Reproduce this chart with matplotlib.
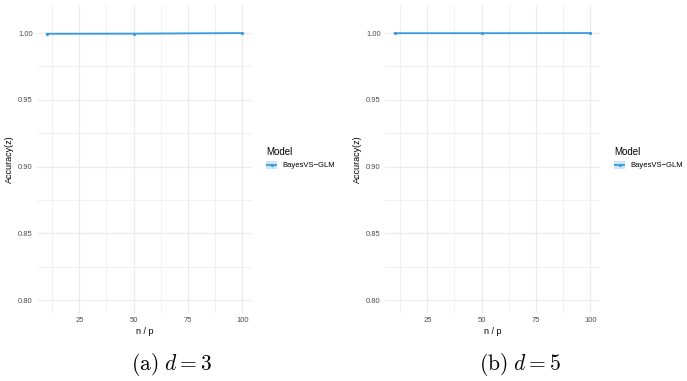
import matplotlib
matplotlib.use("Agg")
import matplotlib.pyplot as plt
from matplotlib.patches import Rectangle

plt.rcParams["font.family"] = ["Liberation Sans", "DejaVu Sans"]
plt.rcParams["mathtext.fontset"] = "cm"

W, H = 687, 381
n_over_p = [10, 50, 100]
acc_d3 = [0.9995, 0.9996, 1.0]
acc_d5 = [0.9999, 0.9999, 1.0]
ci_lo_d3 = [0.9990, 0.9991, 0.9997]
ci_hi_d3 = [1.0000, 1.0001, 1.0003]
ci_lo_d5 = [0.9996, 0.9996, 0.9997]
ci_hi_d5 = [1.0002, 1.0002, 1.0003]
x_ticks = [25, 50, 75, 100]
y_ticks = [0.80, 0.85, 0.90, 0.95, 1.00]
captions = [r"$\mathrm{(a)}\ d=3$", r"$\mathrm{(b)}\ d=5$"]
model_name = "BayesVS\u2212GLM"

line_col = "#3a9bdc"
grid_col = "#ebebeb"

fig = plt.figure(figsize=(W / 100, H / 100), dpi=100)

def px_axes(x0, y0, x1, y1):
    return fig.add_axes([x0 / W, 1 - y1 / H, (x1 - x0) / W, (y1 - y0) / H])

panels = [(0, acc_d3, ci_lo_d3, ci_hi_d3), (348, acc_d5, ci_lo_d5, ci_hi_d5)]
for i, (off, acc, lo, hi) in enumerate(panels):
    ax = px_axes(off + 37, 5, off + 252, 313)
    ax.set_xlim(5.5, 104.5)
    ax.set_ylim(0.7905, 1.021)
    for s in ax.spines.values():
        s.set_visible(False)
    ax.set_xticks(x_ticks)
    ax.set_xticks([12.5, 37.5, 62.5, 87.5], minor=True)
    ax.set_yticks(y_ticks)
    ax.set_yticks([0.825, 0.875, 0.925, 0.975], minor=True)
    ax.set_yticklabels([f"{v:.2f}" for v in y_ticks])
    ax.grid(True, which="major", color=grid_col, lw=0.9)
    ax.grid(True, which="minor", color=grid_col, lw=0.5)
    ax.set_axisbelow(True)
    ax.tick_params(which="both", length=0, labelsize=5.5, labelcolor="#4d4d4d", pad=3)
    ax.fill_between(n_over_p, lo, hi, color=line_col, alpha=0.25, lw=0)
    ax.plot(n_over_p, acc, color=line_col, lw=1.3, marker="o", ms=1.3)
    ax.set_xlabel("n / p", fontsize=6.5, labelpad=2)
    ax.set_ylabel("Accuracy(z)", fontsize=6.5, labelpad=3)
    # legend
    fig.text((off + 266) / W, 1 - 152 / H, "Model", fontsize=7, va="center", ha="left")
    lax = px_axes(off + 266, 159, off + 277, 171)
    lax.set_xlim(0, 1); lax.set_ylim(0, 1); lax.axis("off")
    lax.add_patch(Rectangle((0, 0.15), 1, 0.7, color=line_col, alpha=0.25, lw=0))
    lax.plot([0, 1], [0.5, 0.5], color=line_col, lw=1.3)
    lax.plot([0.5], [0.5], "o", color=line_col, ms=1.3)
    fig.text((off + 282) / W, 1 - 165.5 / H, model_name, fontsize=5.5, va="center", ha="left")
    fig.text((off + 172) / W, 1 - 365 / H, captions[i], fontsize=15.5,
             ha="center", va="center")

fig.savefig("out.png", dpi=100)
